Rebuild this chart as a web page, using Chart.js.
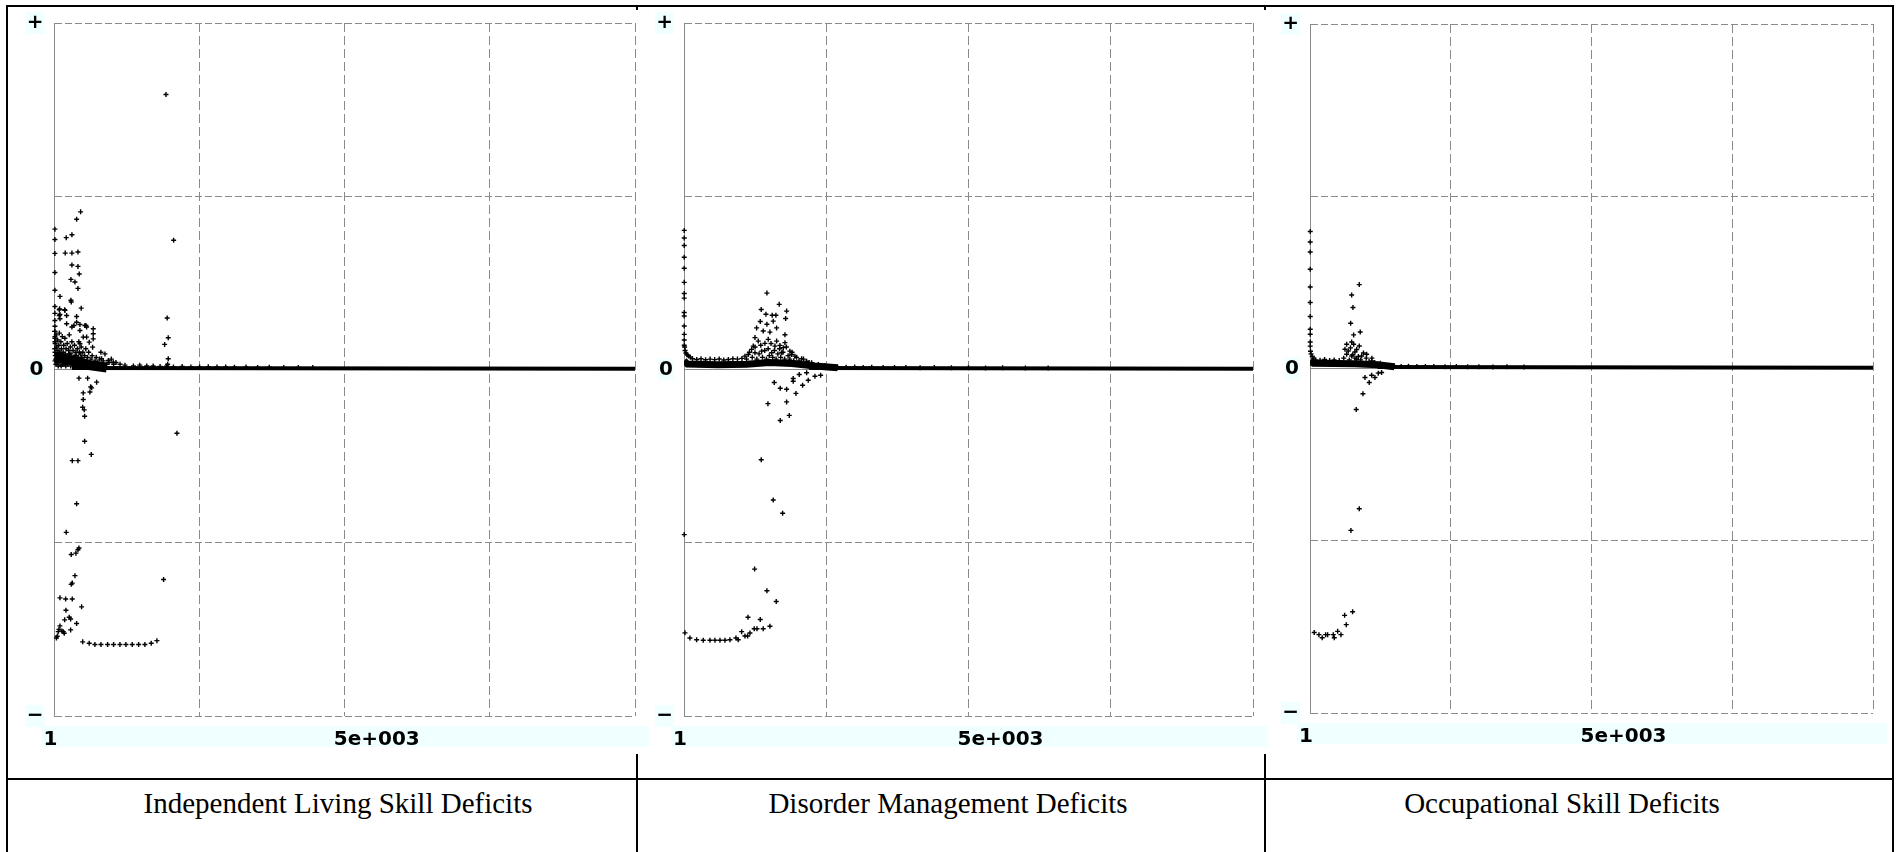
<!DOCTYPE html>
<html>
<head>
<meta charset="utf-8">
<script src="https://cdn.jsdelivr.net/npm/chart.js@4.4.1/dist/chart.umd.min.js"></script>
<style>
html,body{margin:0;padding:0;background:#fff;}
body{width:1900px;height:852px;position:relative;overflow:hidden;}
.ln{position:absolute;background:#000;}
.cv{position:absolute;top:0;}
.title{position:absolute;top:787px;width:600px;font-family:"Liberation Serif","Times New Roman",serif;font-size:29px;line-height:32px;text-align:center;color:#000;white-space:nowrap;}
</style>
</head>
<body>
<div class="ln" style="left:6px;top:5px;width:1888px;height:2px"></div>
<div class="ln" style="left:6px;top:5px;width:2px;height:847px"></div>
<div class="ln" style="left:1892px;top:5px;width:2px;height:847px"></div>
<div class="ln" style="left:6px;top:778px;width:1888px;height:2px"></div>
<div class="ln" style="left:636px;top:754px;width:2px;height:98px"></div>
<div class="ln" style="left:1264px;top:754px;width:2px;height:98px"></div>
<div class="ln" style="left:636px;top:5px;width:2px;height:5px"></div>
<div class="ln" style="left:1264px;top:5px;width:2px;height:5px"></div>

<canvas id="c1" class="cv" style="left:10px" width="650" height="760"></canvas>
<canvas id="c2" class="cv" style="left:640px" width="630" height="760"></canvas>
<canvas id="c3" class="cv" style="left:1266px" width="626" height="760"></canvas>

<div class="title" style="left:38px">Independent Living Skill Deficits</div>
<div class="title" style="left:648px">Disorder Management Deficits</div>
<div class="title" style="left:1262px">Occupational Skill Deficits</div>

<script>
// ---------- axis values ----------
const X_MIN = 1, X_MAX = 10000;
const Y_MIN = -2, Y_MAX = 2;
const X_TICK_VALUES = [1, 2500, 5000, 7500, 10000];
const X_TICK_LABELS = ['1', '', '5e+003', '', ''];
const Y_TICK_VALUES = [-2, -1, 0, 1, 2];
const Y_TICK_LABELS = ['\u2212', '', '0', '', '+'];
const ZERO_LINE = [[1, 0], [10000, 0]];

// ---------- Independent Living Skill Deficits ----------
const ILS_POINTS = [
  [8,0.81],[8,0.75],[8,0.67],[8,0.56],[8,0.457],[8,0.364],[8,0.324],[8,0.283],[8,0.25],[8,0.22],[8,0.19],[8,0.16],
  [451,0.91],[382,0.867],[203,0.761],[301,0.778],[186,0.672],[301,0.672],[405,0.678],[301,0.603],[405,0.595],[427,0.551],
  [284,0.52],[353,0.505],[405,0.468],[95,0.422],[284,0.4],[290,0.39],[461,0.354],[90,0.35],[83,0.345],[181,0.341],
  [210,0.312],[83,0.312],[382,0.306],[95,0.318],[176,0.345],[95,0.293],[210,0.264],[301,0.245],[382,0.273],[439,0.225],
  [525,0.254],[336,0.254],[542,0.254],[554,0.245],[439,0.26],[668,0.235],[668,0.206],[599,0.158],[658,0.129],[668,0.177],
  [496,0.187],[439,0.149],[554,0.187],
  [5,0.22],[8,0.18],[12,0.15],[6,0.12],[10,0.1],[15,0.08],[20,0.06],[9,0.05],[30,0.2],[35,0.13],[40,0.09],[45,0.04],
  [55,0.17],[60,0.11],[70,0.07],[75,0.14],[85,0.21],[90,0.1],[95,0.05],[110,0.16],[120,0.12],[125,0.08],[135,0.19],
  [140,0.03],[150,0.1],[160,0.14],[170,0.06],[180,0.18],[190,0.09],[200,0.12],[210,0.04],[220,0.15],[235,0.08],
  [245,0.11],[255,0.2],[265,0.05],[275,0.13],[285,0.09],[300,0.16],[310,0.06],[320,0.11],[335,0.03],[345,0.14],
  [355,0.08],[370,0.1],[385,0.05],[395,0.12],[410,0.07],[420,0.16],[435,0.04],[445,0.09],[460,0.13],[475,0.06],
  [490,0.1],[505,0.03],[520,0.08],[540,0.12],[555,0.05],[570,0.07],[590,0.1],[610,0.04],[630,0.06],[650,0.08],
  [680,0.03],[700,0.05],[720,0.07],[750,0.04],[780,0.06],[810,0.03],[840,0.05],[870,0.09],[900,0.03],[940,0.04],
  [980,0.06],[1020,0.03],[1060,0.04],
  [25,0.03],[50,0.07],[65,0.02],[80,0.04],[100,0.09],[115,0.02],[130,0.05],[145,0.07],[165,0.03],[185,0.05],
  [195,0.02],[215,0.07],[230,0.03],[250,0.06],[260,0.09],[280,0.02],[295,0.05],[315,0.03],[330,0.07],[350,0.02],
  [365,0.05],[380,0.08],[400,0.03],[415,0.05],[430,0.1],[450,0.02],[465,0.07],[480,0.04],
  [800,0.1],[812,0.062],[927,0.052],[1013,0.042],
  [1130,0.03],[1215,0.025],[1360,0.02],[1470,0.025],[1590,0.02],[1700,0.02],[1820,0.018],[1935,0.02],[2050,0.015],
  [2200,0.018],[2350,0.015],[2500,0.015],[2650,0.016],[2800,0.014],[2950,0.015],[3100,0.013],[3300,0.014],
  [3500,0.012],[3700,0.013],[3950,0.012],[4200,0.012],[4450,0.011],
  [1921,1.587],[2053,0.746],[1942,0.297],[1960,0.183],[1898,0.145],[1960,0.062],[1950,0.03],
  [422,-0.05],[572,-0.05],[727,-0.073],[641,-0.106],[623,-0.1],[611,-0.13],[496,-0.135],[496,-0.173],[486,-0.218],
  [513,-0.233],[520,-0.27],[520,-0.414],[307,-0.526],[405,-0.526],[634,-0.49],[2110,-0.368],[382,-0.775],[203,-0.94],
  [422,-1.03],[405,-1.04],[370,-1.06],[289,-1.068],[353,-1.19],[307,-1.233],[289,-1.24],[95,-1.318],[193,-1.325],
  [307,-1.325],[468,-1.37],[198,-1.39],[255,-1.43],[279,-1.44],[176,-1.445],[382,-1.466],[279,-1.503],[152,-1.513],
  [169,-1.522],[129,-1.509],[95,-1.48],[77,-1.5],[65,-1.513],[48,-1.54],[34,-1.55],[1880,-1.212],
  [486,-1.572],[599,-1.58],[697,-1.587],[801,-1.587],[916,-1.587],[1019,-1.587],[1128,-1.587],[1231,-1.587],
  [1340,-1.587],[1450,-1.587],[1558,-1.587],[1667,-1.58],[1765,-1.565]
];
const ILS_DENSE = [[1,0.07],[200,0.06],[400,0.045],[600,0.025],[900,0.012]];
const ILS_BASE = [[300,0.008],[10000,0.004]];

// ---------- Disorder Management Deficits ----------
const DMD_POINTS = [
  [5,0.803],[5,0.759],[5,0.716],[5,0.648],[5,0.584],[5,0.503],[5,0.439],[5,0.412],[5,0.329],[5,0.309],[5,0.251],
  [5,0.203],[5,0.17],[5,0.14],[5,-0.953],
  [12,0.13],[20,0.11],[35,0.095],[55,0.085],[80,0.078],[110,0.072],
  [150,0.062],[225,0.058],[300,0.062],[380,0.056],[460,0.06],[540,0.057],[620,0.061],[700,0.055],[780,0.058],
  [860,0.062],[940,0.06],[1020,0.064],
  [1458,0.441],[1358,0.346],[1674,0.376],[1441,0.319],[1551,0.313],[1616,0.313],[1804,0.337],[1341,0.277],
  [1458,0.261],[1569,0.279],[1787,0.294],[1277,0.24],[1393,0.222],[1511,0.216],[1628,0.24],[1775,0.201],
  [1248,0.184],[1306,0.164],[1218,0.135],[1423,0.151],[1599,0.135],[1687,0.139],[1745,0.126],[1248,0.097],
  [1365,0.106],[1541,0.097],[1717,0.097],[1892,0.087],[1189,0.116],[1481,0.174],[1629,0.164],[1775,0.155],
  [1862,0.106],[1130,0.087],[1072,0.077],
  [1100,0.06],[1150,0.1],[1200,0.07],[1250,0.13],[1280,0.06],[1320,0.09],[1350,0.14],[1380,0.07],[1420,0.11],
  [1450,0.06],[1480,0.12],[1500,0.08],[1530,0.15],[1560,0.07],[1590,0.11],[1620,0.06],[1650,0.09],[1680,0.12],
  [1700,0.07],[1740,0.1],[1770,0.06],[1800,0.13],[1830,0.08],[1860,0.06],[1900,0.1],[1930,0.05],[1980,0.07],
  [2020,0.05],[2100,0.06],[2200,0.04],
  [1950,0.077],[2068,0.062],[2156,0.048],[2244,0.039],[2360,0.029],[2477,0.023],[2595,0.016],[2700,0.015],
  [2850,0.013],[3000,0.014],[3150,0.012],[3300,0.013],[3500,0.011],[3700,0.012],[3900,0.011],[4150,0.01],
  [4400,0.011],[4700,0.01],[5000,0.01],[5300,0.009],[5600,0.01],[6000,0.009],[6400,0.009],
  [1587,-0.075],[1692,-0.108],[1804,-0.114],[1920,-0.052],[1920,-0.068],[2026,-0.029],[2085,-0.091],[1968,-0.138],
  [2156,-0.019],[2184,-0.062],[2302,-0.039],[2402,-0.033],[1476,-0.197],[1804,-0.187],[1692,-0.294],[1851,-0.265],
  [1358,-0.521],[1569,-0.753],[1734,-0.83],[1242,-1.152],[1458,-1.277],[1622,-1.339],[1125,-1.43],[1341,-1.443],
  [1235,-1.496],[1283,-1.496],[1393,-1.496],[1511,-1.482],[1014,-1.513],[1072,-1.538],[1160,-1.521],[1119,-1.538],
  [914,-1.55],[954,-1.56],[808,-1.56],[721,-1.563],[633,-1.563],[545,-1.563],[457,-1.563],[339,-1.563],[223,-1.56],
  [105,-1.55],[18,-1.52]
];
const DMD_DENSE = [[1,0.05],[60,0.032],[600,0.028],[1100,0.03],[1500,0.04],[1900,0.035],[2300,0.02],[2700,0.01]];
const DMD_BASE = [[2200,0.008],[10000,0.004]];

// ---------- Occupational Skill Deficits ----------
const OSD_POINTS = [
  [5,0.795],[5,0.734],[5,0.676],[5,0.576],[5,0.473],[5,0.383],[5,0.302],[5,0.228],[5,0.199],[5,0.154],[5,0.13],
  [10,0.1],[20,0.085],[40,0.07],[70,0.06],
  [100,0.05],[180,0.048],[260,0.052],[350,0.047],[430,0.05],[520,0.046],
  [876,0.487],[741,0.427],[764,0.354],[723,0.263],[893,0.212],[776,0.195],[652,0.141],[741,0.154],[776,0.141],
  [876,0.131],[622,0.112],[680,0.102],[799,0.096],[652,0.083],[741,0.073],[918,0.073],[1007,0.083],[829,0.054],
  [1096,0.044],[1213,0.025],[1332,0.015],
  [600,0.06],[700,0.05],[720,0.12],[760,0.08],[800,0.06],[830,0.11],[860,0.07],[900,0.05],[950,0.09],[1000,0.06],
  [1050,0.04],[1100,0.06],[1150,0.035],[1250,0.03],
  [1400,0.012],[1500,0.015],[1620,0.012],[1750,0.013],[1900,0.011],[2050,0.012],[2200,0.011],[2400,0.01],
  [2600,0.011],[2800,0.01],[3000,0.01],[3250,0.009],[3500,0.01],[3800,0.009],
  [977,-0.052],[1053,-0.081],[1096,-0.039],[1154,-0.052],[1213,-0.027],[1273,-0.023],[941,-0.147],[822,-0.238],
  [876,-0.814],[728,-0.94],[758,-1.412],[616,-1.433],[645,-1.487],[492,-1.526],[551,-1.545],[414,-1.545],
  [432,-1.563],[314,-1.545],[279,-1.545],[218,-1.563],[160,-1.545],[76,-1.533]
];
const OSD_DENSE = [[1,0.045],[60,0.03],[800,0.028],[1200,0.022],[1500,0.01]];
const OSD_BASE = [[1200,0.008],[10000,0.004]];

// ---------- styling / layout (not data) ----------
const GRID_COLOR = '#8a8a8a';
const STRIP_COLOR = '#f0ffff';
const TICK_FONT = {family: 'DejaVu Sans', weight: 'bold', size: 20};

const stripPlugin = {
  id: 'strip',
  beforeDraw(chart) {
    const a = chart.chartArea, xs = chart.scales.x, ctx = chart.ctx;
    ctx.save();
    ctx.fillStyle = STRIP_COLOR;
    ctx.fillRect(a.left - 13, xs.top + 10, a.right - a.left + 27, 21);
    ctx.restore();
  }
};

const toXY = arr => arr.map(p => ({x: p[0], y: p[1]}));

function makeChart(id, geo, points, dense, denseWidth, base) {
  return new Chart(document.getElementById(id), {
    type: 'scatter',
    plugins: [stripPlugin],
    data: {
      datasets: [
        {type: 'line', data: toXY(ZERO_LINE), borderColor: '#8a8a8a', borderWidth: 1, pointRadius: 0, order: 4},
        {type: 'line', data: toXY(dense), borderColor: '#000', borderWidth: denseWidth, pointRadius: 0, order: 3},
        {type: 'line', data: toXY(base), borderColor: '#000', borderWidth: 4, pointRadius: 0, order: 2},
        {type: 'scatter', data: toXY(points), pointStyle: 'cross', pointRadius: 2.5, borderColor: '#000',
         backgroundColor: '#000', borderWidth: 1.4, order: 1, clip: false}
      ]
    },
    options: {
      responsive: false,
      animation: false,
      devicePixelRatio: 1,
      layout: {padding: geo.pad},
      plugins: {legend: {display: false}, tooltip: {enabled: false}},
      scales: {
        x: {
          type: 'linear', min: X_MIN, max: X_MAX,
          afterBuildTicks: a => { a.ticks = X_TICK_VALUES.map(v => ({value: v})); },
          afterFit: s => { s.height = 36; },
          grid: {drawTicks: false, lineWidth: 1, color: c => (c.index === 0 ? 'rgba(0,0,0,0)' : GRID_COLOR)},
          border: {display: false, dash: [9, 4]},
          ticks: {autoSkip: false, maxRotation: 0, minRotation: 0, align: 'start', labelOffset: -11, padding: 12,
                  color: '#000', font: TICK_FONT, callback: (v, i) => X_TICK_LABELS[i]}
        },
        y: {
          type: 'linear', min: Y_MIN, max: Y_MAX,
          afterBuildTicks: a => { a.ticks = Y_TICK_VALUES.map(v => ({value: v})); },
          afterFit: s => { s.width = geo.axisW; },
          grid: {drawTicks: false, lineWidth: 1, color: GRID_COLOR},
          border: {display: true, color: '#8a8a8a', width: 1, dash: [7, 3]},
          ticks: {autoSkip: false, padding: 11, color: '#000', font: TICK_FONT,
                  callback: (v, i) => Y_TICK_LABELS[i],
                  showLabelBackdrop: c => Y_TICK_LABELS[c.index] !== '',
                  backdropColor: STRIP_COLOR, backdropPadding: {x: 1, y: -1}}
        }
      }
    }
  });
}

makeChart('c1', {axisW: 44.5, pad: {top: 20.5, right: 25, bottom: 8, left: 0}}, ILS_POINTS, ILS_DENSE, 10, ILS_BASE);
makeChart('c2', {axisW: 44, pad: {top: 23, right: 17, bottom: 8, left: 0}}, DMD_POINTS, DMD_DENSE, 7, DMD_BASE);
makeChart('c3', {axisW: 44, pad: {top: 24, right: 19, bottom: 11, left: 0}}, OSD_POINTS, OSD_DENSE, 7, OSD_BASE);
</script>
</body>
</html>
